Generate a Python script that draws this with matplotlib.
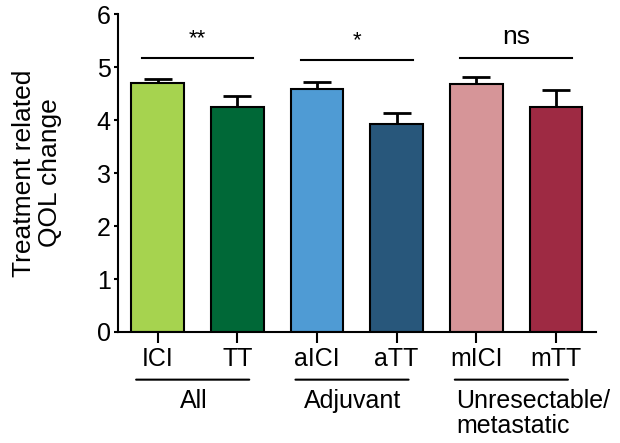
import numpy as np
import matplotlib.pyplot as plt

plt.rcParams['font.family'] = ['Liberation Sans', 'DejaVu Sans']

labels = ['ICI', 'TT', 'aICI', 'aTT', 'mICI', 'mTT']
means = [4.70, 4.25, 4.58, 3.92, 4.68, 4.25]
errs = [0.07, 0.20, 0.14, 0.21, 0.13, 0.32]
colors = ['#a6d34f', '#006837', '#4f9bd4', '#28577b', '#d69598', '#9e2a43']

groups = ['All', 'Adjuvant', 'Unresectable/\nmetastatic']
signif = ['**', '*', 'ns']
signif_y = [5.17, 5.13, 5.17]

fig = plt.figure(figsize=(6.2, 4.43), dpi=100)
ax = fig.add_axes([0.19, 0.2506, 0.771, 0.7174])

x = np.arange(len(labels))
ax.bar(x, means, width=0.66, color=colors, edgecolor='black', linewidth=1.5, zorder=2)
ax.errorbar(x, means, yerr=[np.zeros(len(errs)), errs], fmt='none', ecolor='black',
            elinewidth=2, capsize=10, capthick=2, zorder=1)

ax.set_xlim(-0.5, 5.5)
ax.set_ylim(0, 6)
ax.set_yticks(range(7))
ax.set_xticks(x)
ax.set_xticklabels(labels)
ax.tick_params(labelsize=18, width=1.5)
ax.tick_params(axis='y', length=3, pad=2)
ax.tick_params(axis='x', length=8, pad=3)
ax.spines['top'].set_visible(False)
ax.spines['right'].set_visible(False)
ax.spines['left'].set_linewidth(1.5)
ax.spines['bottom'].set_linewidth(1.5)
ax.set_ylabel('Treatment related\nQOL change', fontsize=19, labelpad=25, linespacing=1.1)

for i, (s, yy) in enumerate(zip(signif, signif_y)):
    x0, x1 = 2 * i - 0.2, 2 * i + 1.2
    ax.plot([x0, x1], [yy, yy], color='black', lw=1.5, clip_on=False)
    if s == 'ns':
        ax.text(2 * i + 0.5, yy + 0.17, s, ha='center', va='bottom', fontsize=19)
    else:
        ax.text(2 * i + 0.5, yy + 0.17, s, ha='center', va='bottom', fontsize=16)

# group labels under the axis
for i, g in enumerate(groups):
    x0, x1 = 2 * i - 0.27, 2 * i + 1.15
    ax.annotate('', xy=(x0, -0.9), xytext=(x1, -0.9), xycoords='data',
                arrowprops=dict(arrowstyle='-', lw=1.5, color='black',
                                shrinkA=0, shrinkB=0), annotation_clip=False)
    if i < 2:
        ax.text(2 * i + 0.45, -1.08, g, ha='center', va='top', fontsize=18)
    else:
        ax.text(2 * i - 0.25, -1.08, g, ha='left', va='top', fontsize=18,
                linespacing=1.05)

fig.savefig('out.png', dpi=100)
